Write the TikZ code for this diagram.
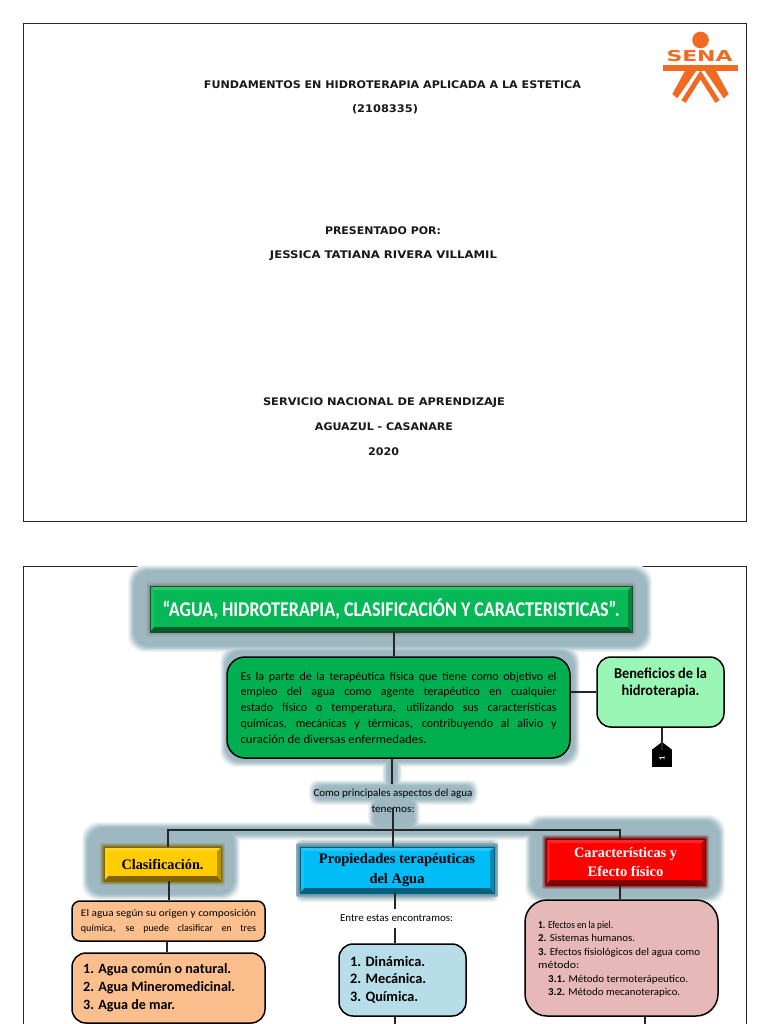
\documentclass[tikz,border=0pt]{standalone}
\usepackage{fontspec}
\usepackage{graphicx}
\setmainfont{Carlito}
\newfontfamily\serifb{Liberation Serif}
\newfontfamily\coverf{DejaVu Sans}
\definecolor{glowc}{HTML}{9DB8C1}
\definecolor{sena}{HTML}{F26A21}
\definecolor{maing}{HTML}{00B050}
\definecolor{titg}{HTML}{06B956}
\definecolor{benef}{HTML}{9AF6B4}
\definecolor{oran}{HTML}{FBBF8D}
\definecolor{lblue}{HTML}{B7DDE8}
\definecolor{lpink}{HTML}{E6B8B7}
\definecolor{clasy}{HTML}{FFCC00}
\definecolor{clasd}{HTML}{7F6600}
\definecolor{propb}{HTML}{00BCF7}
\definecolor{propd}{HTML}{05617F}
\definecolor{card}{HTML}{800000}
\definecolor{titd}{HTML}{03592A}
\newcommand{\gr}[4]{(#1-\lv,#2-\lv) rectangle (#3+\lv,#4+\lv)}
\newcommand{\jl}[2]{\makebox[#1pt][s]{#2}}
\newcommand{\wl}[2]{\resizebox{#1pt}{\height}{#2}}
\tikzset{
 coverline/.style={font=\coverf\bfseries\fontsize{10.5}{12}\selectfont,text=black!90,inner sep=0pt},
 link/.style={draw=black!85,line width=1.5pt},
 rbox/.style={draw=black,line width=1.5pt,rounded corners=14pt,inner sep=0pt},
 bevel/.style n args={2}{draw=#2,line width=.8pt,fill=#1,inner sep=0pt,align=center,
   path picture={
     \fill[#2] (path picture bounding box.south west)--(path picture bounding box.south east)--([xshift=-4pt,yshift=5pt]path picture bounding box.south east)--([xshift=4pt,yshift=5pt]path picture bounding box.south west)--cycle;
     \fill[#2!55!#1] (path picture bounding box.south east)--(path picture bounding box.north east)--([xshift=-4pt,yshift=-4pt]path picture bounding box.north east)--([xshift=-4pt,yshift=5pt]path picture bounding box.south east)--cycle;
     \fill[#1!85!white] (path picture bounding box.north west)--(path picture bounding box.north east)--([xshift=-4pt,yshift=-4pt]path picture bounding box.north east)--([xshift=4pt,yshift=-4pt]path picture bounding box.north west)--cycle;
     \fill[#1!92!white] (path picture bounding box.north west)--(path picture bounding box.south west)--([xshift=4pt,yshift=5pt]path picture bounding box.south west)--([xshift=4pt,yshift=-4pt]path picture bounding box.north west)--cycle;
   }},
 plain/.style={inner sep=0pt,align=left},
 serift/.style={font=\serifb\bfseries\fontsize{14.5}{19.5}\selectfont},
}
\begin{document}
\begin{tikzpicture}[x=1pt,y=-1pt]
\useasboundingbox (0,0) rectangle (768,1024);
\fill[white] (0,0) rectangle (768,1024);
% page frames
\node[draw=black!85,line width=.8pt,minimum width=723pt,minimum height=498pt,inner sep=0pt] (page1) at (384.5,272) {};
\draw[draw=black!85,line width=.8pt] (23,1024) -- (23,566) -- (746,566) -- (746,1024);
% glows
\foreach \lv/\pct in {7/15,6/30,5/48,4/66,3/82,2/94,1/100,0/100}{
 \fill[glowc!\pct!white,rounded corners=16pt]
   \gr{135}{572}{645}{645} \gr{227}{652}{573}{760}
   \gr{89}{829}{233}{893} \gr{532}{822}{718}{896};
 \fill[glowc!\pct!white,rounded corners=8pt] \gr{389}{758}{395}{785}
   \gr{316}{787}{471}{798} \gr{375}{800}{413}{826};
 \fill[glowc!\pct!white,rounded corners=3pt] \gr{110}{829}{700}{833};
 \fill[glowc!\pct!white,rounded corners=4pt] \gr{303}{845}{491}{895};
}
% dark halo near bevel boxes
\foreach \lv/\pct in {4/20,3/45,2/70,1/100}{
 \fill[black!50!red!25!glowc!\pct!glowc,rounded corners=2pt] \gr{150}{586}{632}{632};
 \fill[clasd!80!glowc!\pct!glowc,rounded corners=2pt] \gr{104}{847}{221}{881};
 \fill[card!85!glowc!\pct!glowc,rounded corners=2pt] \gr{546}{839}{705}{885};
 \fill[propd!50!glowc!\pct!glowc,rounded corners=2pt] \gr{300}{847}{494}{893};
}
% cover
\node[coverline] (c1) at (392.5,85) {\wl{377}{FUNDAMENTOS EN HIDROTERAPIA APLICADA A LA ESTETICA}};
\node[coverline] (c2) at (385,109) {\wl{66}{(2108335)}};
\node[coverline] (c3) at (383,231) {\wl{116}{PRESENTADO POR:}};
\node[coverline] (c4) at (383.5,255.5) {\wl{227}{JESSICA TATIANA RIVERA VILLAMIL}};
\node[coverline] (c5) at (384,403) {\wl{242}{SERVICIO NACIONAL DE APRENDIZAJE}};
\node[coverline] (c6) at (384,427) {\wl{138}{AGUAZUL - CASANARE}};
\node[coverline] (c7) at (383.5,452) {\wl{31}{2020}};
% logo
\fill[sena] (700.5,40) circle (8.3);
\node[inner sep=0pt,text=sena] (senat) at (699.5,56.5) {\coverf\bfseries\fontsize{15}{15}\selectfont\wl{66}{SENA}};
\fill[sena] (663,65) rectangle (737.5,71);
\fill[sena] (685,71)--(696,71)--(677.3,98.3)--(672.3,94)--cycle;
\fill[sena] (705,71)--(716,71)--(728.7,94)--(723.7,98.3)--cycle;
\draw[sena,line width=5pt] (683.5,101.5)--(700.5,75)--(717.5,101.5);
% coordinates for connector columns
\coordinate (k1) at (394,0);
\coordinate (k2) at (392,0);
\coordinate (k3) at (393,808);
\coordinate (k4) at (662,0);
\coordinate (barl) at (168,830);
\coordinate (barr) at (620,830);
\coordinate (k5) at (169,0);
\coordinate (k6) at (167,0);
\coordinate (k7) at (395,0);
\coordinate (k8) at (620,0);
\coordinate (k9) at (645,0);
\coordinate (endd) at (0,1024);
% nodes
\node[bevel={titg}{titd},minimum width=482pt,minimum height=46pt,text=white] (title) at (391,609)
 {\bfseries\fontsize{21}{24}\selectfont\wl{457}{“AGUA, HIDROTERAPIA, CLASIFICACIÓN Y CARACTERISTICAS”.}};
\node[rbox,fill=maing,minimum width=343pt,minimum height=101pt,align=left,rounded corners=18pt,font=\fontsize{12}{15.7}\selectfont] (main) at (398.5,707.5)
 {\jl{316}{Es la parte de la terapéutica física que tiene como objetivo el}\\
 \jl{316}{empleo del agua como agente terapéutico en cualquier}\\
 \jl{316}{estado físico o temperatura, utilizando sus características}\\
 \jl{316}{químicas, mecánicas y térmicas, contribuyendo al alivio y}\\
 \wl{186}{curación de diversas enfermedades.}};
\node[rbox,fill=benef,minimum width=127pt,minimum height=70pt] (ben) at (660.5,692) {};
\node[plain,align=center,font=\bfseries\fontsize{15}{17}\selectfont] (bent) at (660.5,683) {\wl{93}{Beneficios de la}\\\wl{78}{hidroterapia.}};
\node[fill=black,minimum width=20pt,minimum height=17pt,inner sep=0pt] (tag) at (662,758.5)
 {\rotatebox{90}{\textcolor{white}{\bfseries\fontsize{8}{8}\selectfont 1}}};
\fill[black] (tag.north west) -- (662,742) -- (tag.north east) -- cycle;
\node[plain,align=center,font=\fontsize{10.8}{16}\selectfont,minimum height=33pt] (como) at (393,801) {\wl{159}{Como principales aspectos del agua}\\\wl{43}{tenemos:}};
\node[bevel={clasy}{clasd},minimum width=117pt,minimum height=34pt] (clas) at (162.5,864)
 {\serifb\bfseries\fontsize{14.5}{18}\selectfont\wl{82}{Clasificación.}};
\node[bevel={propb}{propd},minimum width=194pt,minimum height=46pt,serift] (prop) at (397,870)
 {\wl{156}{Propiedades terapéuticas}\\\wl{55}{del Agua}};
\node[bevel={red}{card},minimum width=159pt,minimum height=46pt,text=white,serift] (car) at (625.5,862)
 {\wl{103}{Características y}\\\wl{76}{Efecto físico}};
\node[rbox,fill=oran,minimum width=193pt,minimum height=40pt,rounded corners=8pt,align=left,font=\fontsize{10}{15}\selectfont] (b1) at (168.5,921)
 {\wl{175}{El agua según su origen y composición}\\
 \jl{175}{química, se puede clasificar en tres}};
\node[rbox,fill=oran,minimum width=193pt,minimum height=70pt] (b2) at (168.5,988) {};
\node[plain,anchor=north west,font=\fontsize{14.2}{17.8}\selectfont\bfseries] (b2t) at (83,963.5) {\wl{148}{1. Agua común o natural.}\\\wl{152}{2. Agua Mineromedicinal.}\\\wl{92}{3. Agua de mar.}};
\node[plain,font=\fontsize{10.8}{12}\selectfont,minimum height=19pt] (entre) at (396.5,918.5) {\wl{113}{Entre estas encontramos:}};
\node[rbox,fill=lblue,minimum width=127pt,minimum height=72pt] (din) at (402.5,980) {};
\node[plain,anchor=north west,font=\fontsize{14.4}{17.5}\selectfont\bfseries] (dint) at (350,956) {\wl{75}{1. Dinámica.}\\\wl{76}{2. Mecánica.}\\\wl{68}{3. Química.}};
\node[rbox,fill=lpink,minimum width=193pt,minimum height=116pt,rounded corners=22pt] (pink) at (621.5,958) {};
\node[plain,anchor=north west,font=\fontsize{10.5}{13.55}\selectfont] (pinkt) at (538,920.5)
 {\wl{75}{\textbf{1.} Efectos en la piel.}\\\wl{97}{\textbf{2.} Sistemas humanos.}\\\wl{162}{\textbf{3.} Efectos fisiológicos del agua como}\\\wl{41}{método:}\\
 \hspace*{10pt}\wl{140}{\textbf{3.1.} Método termoterápeutico.}\\\hspace*{10pt}\wl{132}{\textbf{3.2.} Método mecanoterapico.}};
% connectors
\draw[link] (title.south -| k1) -- (main.north -| k1);
\draw[link] (main.east |- ben.west) -- (ben.west);
\draw[link] (ben.south -| k4) -- (tag.north -| k4);
\draw[link] (main.south -| k2) -- (como.north -| k2);
\draw[link] (k3) -- (prop.north -| k3);
\draw[link] (clas.north -| barl) |- (barr) -- (car.north -| barr);
\draw[link] (clas.south -| k5) -- (b1.north -| k5);
\draw[link] (b1.south -| k6) -- (b2.north -| k6);
\draw[link] (prop.south -| k7) -- (entre.north -| k7);
\draw[link] (entre.south -| k7) -- (din.north -| k7);
\draw[link] (din.south -| k7) -- (endd -| k7);
\draw[link] (car.south -| k8) -- (pink.north -| k8);
\draw[link] (pink.south -| k9) -- (endd -| k9);
\end{tikzpicture}
\end{document}
